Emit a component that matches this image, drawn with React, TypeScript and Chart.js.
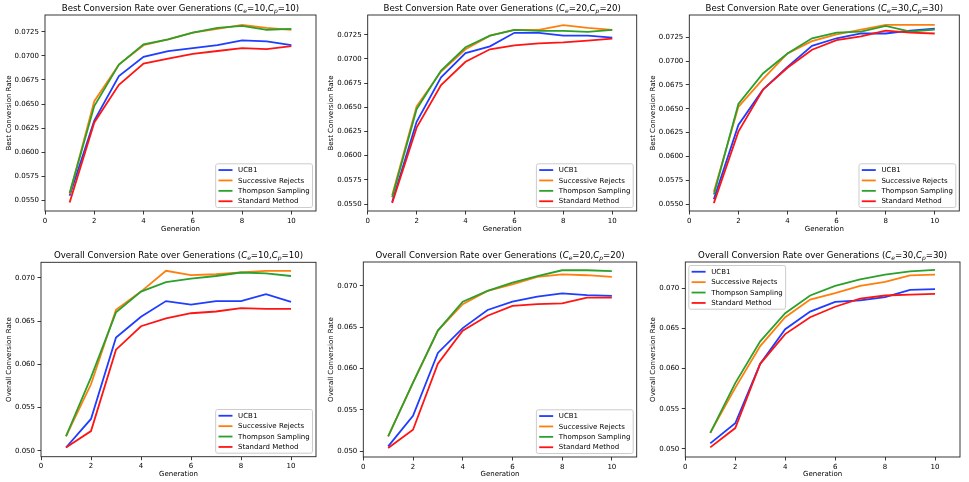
import React, { useEffect, useRef } from "react";
import { Chart, registerables } from "chart.js";
Chart.register(...registerables);

// ---------- data ----------
const generations = [1, 2, 3, 4, 5, 6, 7, 8, 9, 10];
const seriesNames = ["UCB1", "Successive Rejects", "Thompson Sampling", "Standard Method"];
const seriesColors = ["#1f3dff", "#ff7f0e", "#2ca02c", "#ff1414"];

const xTicks = [0, 2, 4, 6, 8, 10];
const bestYTicks = [0.055, 0.0575, 0.06, 0.0625, 0.065, 0.0675, 0.07, 0.0725];
const overallYTicks = [0.05, 0.055, 0.06, 0.065, 0.07];

const panelTitles = [
  "Best Conversion Rate over Generations",
  "Best Conversion Rate over Generations",
  "Best Conversion Rate over Generations",
  "Overall Conversion Rate over Generations",
  "Overall Conversion Rate over Generations",
  "Overall Conversion Rate over Generations",
];
const panelCosts = [10, 20, 30, 10, 20, 30];
const yAxisLabels = [
  "Best Conversion Rate",
  "Best Conversion Rate",
  "Best Conversion Rate",
  "Overall Conversion Rate",
  "Overall Conversion Rate",
  "Overall Conversion Rate",
];
const xAxisLabel = "Generation";

// Best, Ce=10, Cp=10
const best10UCB1 = [0.0555, 0.0633, 0.0679, 0.0699, 0.0705, 0.0708, 0.0711, 0.0716, 0.0715, 0.0711];
const best10SR = [0.0557, 0.0653, 0.0691, 0.0711, 0.0717, 0.0724, 0.0728, 0.0732, 0.0729, 0.0727];
const best10TS = [0.0558, 0.0648, 0.0691, 0.0712, 0.0717, 0.0724, 0.0729, 0.0731, 0.0727, 0.0728];
const best10Std = [0.0548, 0.0631, 0.0670, 0.0692, 0.0697, 0.0702, 0.0705, 0.0708, 0.0707, 0.0710];

// Best, Ce=20, Cp=20
const best20UCB1 = [0.0552, 0.0635, 0.0681, 0.0706, 0.0713, 0.0727, 0.0727, 0.0724, 0.0724, 0.0722];
const best20SR = [0.0559, 0.0651, 0.0687, 0.0710, 0.0724, 0.0730, 0.0730, 0.0735, 0.0732, 0.0730];
const best20TS = [0.0557, 0.0648, 0.0688, 0.0712, 0.0724, 0.0730, 0.0729, 0.0729, 0.0728, 0.0730];
const best20Std = [0.0551, 0.0629, 0.0673, 0.0697, 0.0710, 0.0714, 0.0716, 0.0717, 0.0719, 0.0721];

// Best, Ce=30, Cp=30
const best30UCB1 = [0.0555, 0.0633, 0.0670, 0.0694, 0.0716, 0.0724, 0.0729, 0.0729, 0.0732, 0.0734];
const best30SR = [0.0563, 0.0652, 0.0681, 0.0708, 0.0721, 0.0728, 0.0733, 0.0738, 0.0738, 0.0738];
const best30TS = [0.0560, 0.0655, 0.0687, 0.0708, 0.0724, 0.0730, 0.0731, 0.0737, 0.0731, 0.0733];
const best30Std = [0.0551, 0.0626, 0.0670, 0.0693, 0.0712, 0.0722, 0.0726, 0.0732, 0.0730, 0.0729];

// Overall, Ce=10, Cp=10
const overall10UCB1 = [0.0504, 0.0537, 0.0631, 0.0655, 0.0673, 0.0669, 0.0673, 0.0673, 0.0681, 0.0672];
const overall10SR = [0.0517, 0.0577, 0.0663, 0.0684, 0.0708, 0.0703, 0.0704, 0.0706, 0.0708, 0.0708];
const overall10TS = [0.0517, 0.0585, 0.0660, 0.0684, 0.0695, 0.0699, 0.0702, 0.0706, 0.0705, 0.0702];
const overall10Std = [0.0504, 0.0523, 0.0617, 0.0644, 0.0653, 0.0659, 0.0661, 0.0665, 0.0664, 0.0664];

// Overall, Ce=20, Cp=20
const overall20UCB1 = [0.0506, 0.0543, 0.0619, 0.0649, 0.0671, 0.0681, 0.0687, 0.0691, 0.0689, 0.0688];
const overall20SR = [0.0518, 0.0583, 0.0646, 0.0678, 0.0694, 0.0702, 0.0711, 0.0714, 0.0713, 0.0711];
const overall20TS = [0.0518, 0.0583, 0.0646, 0.0681, 0.0694, 0.0704, 0.0712, 0.0719, 0.0719, 0.0718];
const overall20Std = [0.0504, 0.0526, 0.0606, 0.0646, 0.0664, 0.0676, 0.0678, 0.0679, 0.0686, 0.0686];

// Overall, Ce=30, Cp=30
const overall30UCB1 = [0.0507, 0.0532, 0.0606, 0.0649, 0.0671, 0.0683, 0.0685, 0.0689, 0.0698, 0.0699];
const overall30SR = [0.0520, 0.0576, 0.0628, 0.0664, 0.0686, 0.0694, 0.0703, 0.0708, 0.0716, 0.0717];
const overall30TS = [0.0520, 0.0582, 0.0634, 0.0669, 0.0691, 0.0703, 0.0711, 0.0717, 0.0721, 0.0723];
const overall30Std = [0.0502, 0.0526, 0.0606, 0.0643, 0.0664, 0.0677, 0.0687, 0.0691, 0.0692, 0.0693];

const panelSeries = [
  [best10UCB1, best10SR, best10TS, best10Std],
  [best20UCB1, best20SR, best20TS, best20Std],
  [best30UCB1, best30SR, best30TS, best30Std],
  [overall10UCB1, overall10SR, overall10TS, overall10Std],
  [overall20UCB1, overall20SR, overall20TS, overall20Std],
  [overall30UCB1, overall30SR, overall30TS, overall30Std],
];
const panelYTicks = [bestYTicks, bestYTicks, bestYTicks, overallYTicks, overallYTicks, overallYTicks];
const panelYDecimals = [4, 4, 4, 3, 3, 3];
const panelYMin = [0.05393, 0.05428, 0.05427, 0.04934, 0.04931, 0.049];
const panelYMax = [0.07423, 0.07454, 0.07484, 0.07178, 0.0729, 0.07327];
const panelLegendPos = ["lowerright", "lowerright", "lowerright", "lowerright", "lowerright", "upperleft"];

// ---------- layout (canvas boxes and plot areas, page px) ----------
const panelBoxes = [
  { cx: 0, cy: 0, cw: 322, ch: 240, l: 45, r: 316, t: 15, b: 211, xt: 18.3 },
  { cx: 322, cy: 0, cw: 322, ch: 240, l: 367.7, r: 636.7, t: 15, b: 211, xt: 18.3 },
  { cx: 644, cy: 0, cw: 325, ch: 240, l: 689.3, r: 959.3, t: 15, b: 211, xt: 18.3 },
  { cx: 0, cy: 240, cw: 322, ch: 242, l: 41, r: 316, t: 262.3, b: 456.7, xt: 17.5 },
  { cx: 322, cy: 240, cw: 322, ch: 242, l: 363.3, r: 636.7, t: 262, b: 457, xt: 17.5 },
  { cx: 644, cy: 240, cw: 325, ch: 242, l: 685.3, r: 960, t: 262, b: 457, xt: 17.5 },
];

const FONT = '"DejaVu Sans", "Liberation Sans", sans-serif';
const SMALL = 7;
const TITLE = 8.6;
const LW = 1.8;
const TEXT = "#000";

function makeDecor(idx: number) {
  return {
    id: "mplDecor" + idx,
    afterDraw(chart: any) {
      const { ctx, chartArea: a } = chart;
      ctx.save();
      // frame
      ctx.strokeStyle = "#222";
      ctx.lineWidth = 0.9;
      ctx.strokeRect(a.left, a.top, a.right - a.left, a.bottom - a.top);

      // title with math subscripts
      const n = String(panelCosts[idx]);
      const normal = `${TITLE}px ${FONT}`;
      const italic = `italic ${TITLE}px ${FONT}`;
      const sub = `italic ${TITLE * 0.7}px ${FONT}`;
      const parts = [
        { t: panelTitles[idx] + " (", f: normal, dy: 0 },
        { t: "C", f: italic, dy: 0 },
        { t: "e", f: sub, dy: 2 },
        { t: "=" + n + ",", f: normal, dy: 0 },
        { t: "C", f: italic, dy: 0 },
        { t: "p", f: sub, dy: 2 },
        { t: "=" + n + ")", f: normal, dy: 0 },
      ];
      let total = 0;
      const widths = parts.map((p) => {
        ctx.font = p.f;
        const w = ctx.measureText(p.t).width;
        total += w;
        return w;
      });
      let x = (a.left + a.right) / 2 - total / 2;
      const baseY = a.top - 4;
      ctx.fillStyle = TEXT;
      ctx.textBaseline = "alphabetic";
      ctx.textAlign = "left";
      parts.forEach((p, i) => {
        ctx.font = p.f;
        ctx.fillText(p.t, x, baseY + p.dy);
        x += widths[i];
      });

      // legend
      const fs = SMALL;
      const pad = 0.4 * fs;
      const handleLen = 2 * fs;
      const textPad = 0.8 * fs;
      const rowH = 6.9;
      const spacing = 0.5 * fs;
      const axPad = 0.5 * fs;
      ctx.font = `${fs}px ${FONT}`;
      const maxW = Math.max(...seriesNames.map((s) => ctx.measureText(s).width));
      const boxW = pad * 2 + handleLen + textPad + maxW;
      const boxH = pad * 2 + seriesNames.length * rowH + (seriesNames.length - 1) * spacing;
      let bx: number, by: number;
      if (panelLegendPos[idx] === "upperleft") {
        bx = a.left + axPad;
        by = a.top + axPad;
      } else {
        bx = a.right - axPad - boxW;
        by = a.bottom - axPad - boxH;
      }
      ctx.beginPath();
      const rr = 2;
      ctx.moveTo(bx + rr, by);
      ctx.lineTo(bx + boxW - rr, by);
      ctx.quadraticCurveTo(bx + boxW, by, bx + boxW, by + rr);
      ctx.lineTo(bx + boxW, by + boxH - rr);
      ctx.quadraticCurveTo(bx + boxW, by + boxH, bx + boxW - rr, by + boxH);
      ctx.lineTo(bx + rr, by + boxH);
      ctx.quadraticCurveTo(bx, by + boxH, bx, by + boxH - rr);
      ctx.lineTo(bx, by + rr);
      ctx.quadraticCurveTo(bx, by, bx + rr, by);
      ctx.closePath();
      ctx.fillStyle = "rgba(255,255,255,0.8)";
      ctx.fill();
      ctx.strokeStyle = "#cccccc";
      ctx.lineWidth = 1;
      ctx.stroke();
      seriesNames.forEach((name, i) => {
        const cy = by + pad + rowH / 2 + i * (rowH + spacing);
        ctx.strokeStyle = seriesColors[i];
        ctx.lineWidth = LW;
        ctx.beginPath();
        ctx.moveTo(bx + pad, cy);
        ctx.lineTo(bx + pad + handleLen, cy);
        ctx.stroke();
        ctx.fillStyle = TEXT;
        ctx.textBaseline = "middle";
        ctx.fillText(name, bx + pad + handleLen + textPad, cy + 0.3);
      });
      ctx.restore();
    },
  };
}

function Panel({ idx }: { idx: number }) {
  const ref = useRef<HTMLCanvasElement | null>(null);
  const b = panelBoxes[idx];
  useEffect(() => {
    if (!ref.current) return;
    const yTicks = panelYTicks[idx];
    const dec = panelYDecimals[idx];
    const lineH = SMALL * 1.2;
    const xAxisH = b.cy + b.ch - b.b;
    const chart = new Chart(ref.current, {
      type: "line",
      data: {
        datasets: seriesNames.map((name, i) => ({
          label: name,
          data: generations.map((g, j) => ({ x: g, y: panelSeries[idx][i][j] })),
          borderColor: seriesColors[i],
          backgroundColor: seriesColors[i],
          borderWidth: LW,
          pointRadius: 0,
          tension: 0,
          fill: false,
          order: seriesNames.length - i,
        })),
      },
      options: {
        animation: false,
        responsive: false,
        maintainAspectRatio: false,
        layout: {
          padding: { left: 0, top: b.t - b.cy, right: b.cx + b.cw - b.r, bottom: 0 },
        },
        plugins: {
          legend: { display: false },
          tooltip: { enabled: false },
          title: { display: false },
        },
        scales: {
          x: {
            type: "linear",
            min: 0,
            max: 11,
            afterBuildTicks: (s: any) => {
              s.ticks = xTicks.map((v) => ({ value: v }));
            },
            afterFit: (s: any) => {
              s.height = xAxisH;
            },
            ticks: {
              autoSkip: false,
              maxRotation: 0,
              padding: 2,
              color: TEXT,
              font: { family: FONT, size: SMALL },
              callback: (v: any) => String(v),
            },
            grid: { display: true, drawOnChartArea: false, drawTicks: true, tickLength: 3.5, color: "#222", lineWidth: 0.9 },
            border: { display: false },
            title: {
              display: true,
              text: xAxisLabel,
              color: TEXT,
              font: { family: FONT, size: SMALL },
              padding: { top: 0, bottom: xAxisH - b.xt - lineH / 2 },
            },
          },
          y: {
            type: "linear",
            min: panelYMin[idx],
            max: panelYMax[idx],
            afterBuildTicks: (s: any) => {
              s.ticks = yTicks.map((v) => ({ value: v }));
            },
            afterFit: (s: any) => {
              s.width = b.l - b.cx;
            },
            ticks: {
              autoSkip: false,
              padding: 2.5,
              color: TEXT,
              font: { family: FONT, size: SMALL },
              callback: (v: any) => Number(v).toFixed(dec),
            },
            grid: { display: true, drawOnChartArea: false, drawTicks: true, tickLength: 3.5, color: "#222", lineWidth: 0.9 },
            border: { display: false },
            title: {
              display: true,
              text: yAxisLabels[idx],
              color: TEXT,
              font: { family: FONT, size: SMALL },
              padding: { top: 9 - lineH / 2, bottom: 0 },
            },
          },
        },
      },
      plugins: [makeDecor(idx)],
    } as any);
    return () => chart.destroy();
  }, [idx]);
  return (
    <div style={{ position: "absolute", left: b.cx, top: b.cy, width: b.cw, height: b.ch }}>
      <canvas ref={ref} width={b.cw} height={b.ch} style={{ width: b.cw, height: b.ch, display: "block" }} />
    </div>
  );
}

export default function App() {
  return (
    <div
      style={{
        position: "absolute",
        left: 0,
        top: 0,
        width: 969,
        height: 482,
        background: "#ffffff",
        overflow: "hidden",
      }}
    >
      {panelBoxes.map((_, i) => (
        <Panel key={i} idx={i} />
      ))}
    </div>
  );
}
